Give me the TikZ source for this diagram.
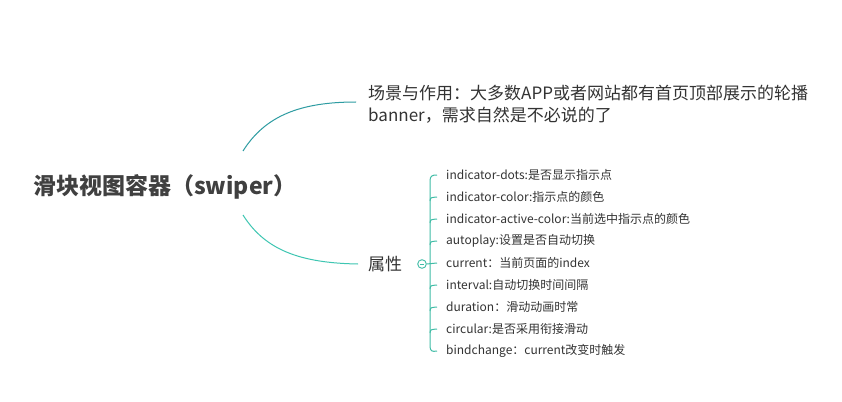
\documentclass[tikz,border=0pt]{standalone}
\usepackage{fontspec}
\setmainfont{Noto Sans CJK SC}
\begin{document}
\begin{tikzpicture}[x=1pt,y=-1pt,
  txt/.style={inner sep=0pt,anchor=west,text=txtc},
  roottxt/.style={txt,font=\fontsize{23}{28}\selectfont\bfseries,text=rootc},
  midtxt/.style={txt,font=\fontsize{17}{22}\selectfont},
  itemtxt/.style={txt,font=\fontsize{12}{14}\selectfont},
  upcurve/.style={draw=upc,line width=1pt},
  lowcurve/.style={draw=lowc,line width=1pt},
  brk/.style={draw=brkc,line width=1pt}]
\definecolor{txtc}{HTML}{333333}
\definecolor{rootc}{HTML}{404040}
\definecolor{upc}{HTML}{2E9CA2}
\definecolor{lowc}{HTML}{3EC6B2}
\definecolor{brkc}{HTML}{40BCA6}
\useasboundingbox[fill=white] (0,0) rectangle (842,401);

\node[roottxt] (root) at (33,187) {滑块视图容器（swiper）};
\node[midtxt,align=left] (scene) at (368,104) {场景与作用：大多数APP或者网站都有首页顶部展示的轮播\\banner，需求自然是不必说的了};
\node[midtxt] (attr) at (368,264) {属性};

\coordinate (rup) at (243,151);
\coordinate (rlow) at (243,215);
\coordinate (sup) at ([xshift=-12pt]scene.west |- 0,102);
\coordinate (alow) at ([xshift=-10pt]attr.west);
\draw[upcurve] (rup) .. controls (265,116) and (300,102) .. (sup);
\draw[lowcurve] (rlow) .. controls (265,250) and (300,263) .. (alow);

\node[circle,draw=brkc,fill=white,line width=0.9pt,minimum size=8.6pt,inner sep=0pt] (tog) at (422,264) {};
\draw[brkc,line width=0.8pt] ([xshift=-2.2pt]tog.center) -- ([xshift=2.2pt]tog.center);

\foreach \i/\t [count=\k] in {
 1/{indicator-dots:是否显示指示点},
 2/{indicator-color:指示点的颜色},
 3/{indicator-active-color:当前选中指示点的颜色},
 4/{autoplay:设置是否自动切换},
 5/{current：当前页面的index},
 6/{interval:自动切换时间间隔},
 7/{duration：滑动动画时常},
 8/{circular:是否采用衔接滑动},
 9/{bindchange：current改变时触发}}{
  \node[itemtxt] (i\i) at (446,{175+22*(\i-1)}) {\t};
  \coordinate (t\i) at ([xshift=-9pt]i\i.west);
}
\draw[brk] (t1) .. controls (432,175) and (430,176) .. (430,181) -- (430,346) .. controls (430,351) and (432,352) .. (t9);
\foreach \i in {2,3,4,6,7,8}{
  \draw[brk] (430,{175+22*(\i-1)+4}) .. controls (430.5,{175+22*(\i-1)+0.5}) .. (t\i);
}
\draw[brk] (tog.east) -- (t5);
\end{tikzpicture}
\end{document}
